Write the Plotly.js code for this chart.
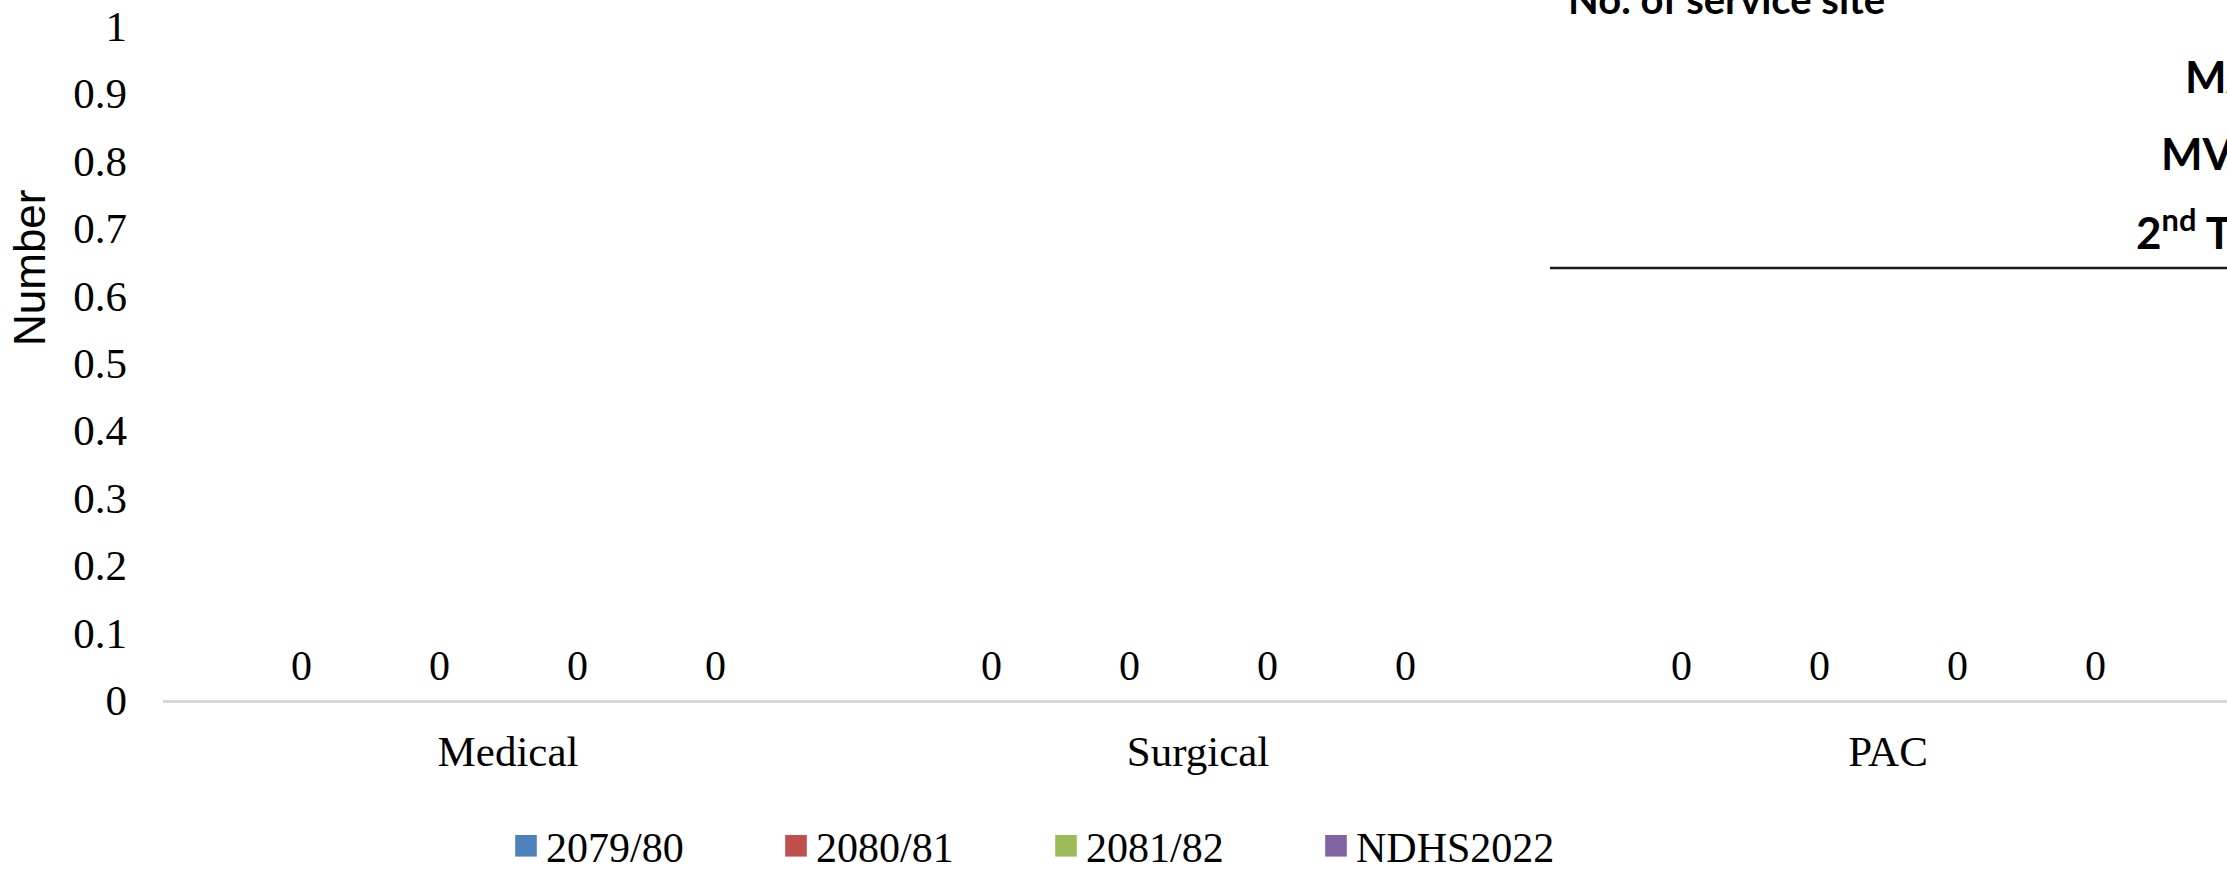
<!DOCTYPE html>
<html>
<head>
<meta charset="utf-8">
<script src="https://cdn.plot.ly/plotly-3.0.1.min.js"></script>
<style>
html,body{margin:0;padding:0;background:#fff;overflow:hidden;}
#chart{width:2227px;height:871px;}
</style>
</head>
<body>
<div id="chart"></div>
<script>
// ---- data ----
const categories = ['Medical', 'Surgical', 'PAC'];
const seriesNames = ['2079/80', '2080/81', '2081/82', 'NDHS2022'];
const values2079 = [0, 0, 0];
const values2080 = [0, 0, 0];
const values2081 = [0, 0, 0];
const valuesNDHS = [0, 0, 0];
const yTickVals = [0, 0.1, 0.2, 0.3, 0.4, 0.5, 0.6, 0.7, 0.8, 0.9, 1];
const yTickText = ['0', '0.1', '0.2', '0.3', '0.4', '0.5', '0.6', '0.7', '0.8', '0.9', '1'];
const yAxisTitle = 'Number';
const tableHeader = 'No. of service site';
const tableRows = ['MA', 'MVA', '2<sup>nd</sup> Trimester'];

// ---- styles ----
const colors = ['#4F81BD', '#C0504D', '#9BBB59', '#8064A2'];
const serif = 'Liberation Serif, Times New Roman, serif';
const sans = 'Lato, Liberation Sans, sans-serif';
const W = 2227, H = 871;
const plotL = 163, plotT = 26, plotB = 700; // pixel geometry
const px2paperX = p => (p - plotL) / (W - plotL);
const px2paperY = p => (plotB - p) / (plotB - plotT);
const bargap = 0.2;

const allValues = [values2079, values2080, values2081, valuesNDHS];
const traces = allValues.map((vals, i) => ({
  type: 'bar',
  name: seriesNames[i],
  x: categories,
  y: vals,
  marker: {color: colors[i]},
  hoverinfo: 'x+y+name'
}));

const annotations = [
  {
    text: yAxisTitle, textangle: -90, showarrow: false,
    xref: 'paper', yref: 'paper', x: px2paperX(29), y: px2paperY(268),
    xanchor: 'center', yanchor: 'middle',
    font: {family: 'Liberation Sans, Arial, sans-serif', size: 44, color: '#000'}
  },
  {
    text: '<b>' + tableHeader + '</b>', showarrow: false,
    xref: 'paper', yref: 'paper', x: px2paperX(1566), y: px2paperY(-1),
    xanchor: 'left', yanchor: 'middle',
    font: {family: sans, size: 40, color: '#000'}
  }
];
const rowCentres = [76, 153, 229];
const rowLefts = [2183, 2159, 2134];
tableRows.forEach((t, i) => annotations.push({
  text: '<b>' + t + '</b>', showarrow: false,
  xref: 'paper', yref: 'paper', x: px2paperX(rowLefts[i]), y: px2paperY(rowCentres[i]),
  xanchor: 'left', yanchor: 'middle',
  font: {family: sans, size: 44, color: '#000'}
}));

// data labels placed through the category / value axes
const nSeries = allValues.length;
const slot = (1 - bargap) / nSeries;
allValues.forEach((vals, j) => {
  vals.forEach((v, i) => annotations.push({
    text: String(v), showarrow: false,
    xref: 'x', yref: 'y',
    x: i + (j - (nSeries - 1) / 2) * slot, y: v,
    xanchor: 'center', yanchor: 'middle', yshift: 34,
    font: {family: serif, size: 42, color: '#000'}
  }));
});

const layout = {
  width: W, height: H,
  margin: {l: plotL, r: 0, t: plotT, b: H - plotB, pad: 0},
  paper_bgcolor: '#fff', plot_bgcolor: '#fff',
  barmode: 'group', bargap: bargap, bargroupgap: 0,
  showlegend: true,
  legend: {
    orientation: 'h', xref: 'container', yref: 'container',
    x: 506 / W, y: (H - 846) / H, xanchor: 'left', yanchor: 'middle',
    font: {family: serif, size: 42, color: '#000'},
    entrywidth: 225, entrywidthmode: 'pixels',
    bgcolor: 'rgba(0,0,0,0)', borderwidth: 0, traceorder: 'normal'
  },
  xaxis: {
    type: 'category', range: [-0.5, (W - plotL) / 690 - 0.5],
    showline: true, linecolor: '#d9d9d9', linewidth: 2.5,
    showgrid: false, zeroline: false, ticks: '',
    tickfont: {family: serif, size: 43, color: '#000'},
    ticklabelstandoff: 12, fixedrange: true
  },
  yaxis: {
    range: [0, 1], tickvals: yTickVals, ticktext: yTickText,
    showline: false, showgrid: false, zeroline: false, ticks: '',
    tickfont: {family: serif, size: 43, color: '#000'},
    ticklabelstandoff: 35, fixedrange: true
  },
  shapes: [{
    type: 'line', xref: 'paper', yref: 'paper',
    x0: px2paperX(1550), x1: 1.05, y0: px2paperY(268), y1: px2paperY(268),
    line: {color: '#1a1a1a', width: 2.5}
  }],
  annotations: annotations
};

Plotly.newPlot('chart', traces, layout, {displayModeBar: false, staticPlot: true}).then(() => {
  document.querySelectorAll('.legendpoints path').forEach(p => {
    const t = p.getAttribute('transform') || '';
    p.setAttribute('transform', t + ' scale(1.8)');
  });
});
</script>
</body>
</html>
